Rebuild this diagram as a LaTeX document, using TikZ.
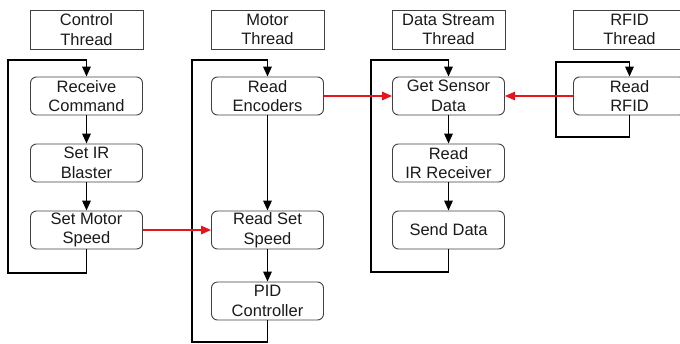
\documentclass[tikz,border=0pt]{standalone}
\usepackage{fontspec}
\setmainfont{Liberation Sans}
\usetikzlibrary{arrows.meta}
\definecolor{boxline}{HTML}{404040}
\definecolor{txt}{HTML}{1A1A1A}
\definecolor{link}{HTML}{E8141B}
\begin{document}
\begin{tikzpicture}[x=1pt,y=-1pt,
  every node/.style={font=\fontsize{16.5}{19.5}\selectfont, text=txt, align=center, inner sep=0pt},
  header/.style={draw=boxline, line width=0.9pt, minimum width=113pt, minimum height=39pt},
  task/.style={draw=boxline, line width=0.9pt, rounded corners=6pt, minimum width=112pt, minimum height=38pt},
  flow/.style={line width=1.6pt, draw=black, -{Triangle[length=10pt,width=8.5pt]}},
  loopline/.style={line width=1.6pt, draw=black, -{Triangle[length=10pt,width=8.5pt]}},
  cross/.style={line width=1.3pt, draw=link, -{Triangle[length=10pt,width=8.5pt]}, fill=link}]
\useasboundingbox (0,0) rectangle (680,343);
\clip (0,0) rectangle (680,343);

% thread headers
\node[header] (hc) at (86.5,29.5) {Control\\Thread};
\node[header] (hm) at (267.5,29.5) {Motor\\Thread};
\node[header] (hd) at (448.5,29.5) {Data Stream\\Thread};
\node[header] (hr) at (629.5,29.5) {RFID\\Thread};

% control thread
\node[task] (rc) at (86.5,96) {Receive\\Command};
\node[task] (ir) at (86.5,163) {Set IR\\Blaster};
\node[task] (sm) at (86.5,230) {Set Motor\\Speed};

% motor thread
\node[task] (re) at (267.5,96) {Read\\Encoders};
\node[task] (rs) at (267.5,230) {Read Set\\Speed};
\node[task] (pid) at (267.5,301) {PID\\Controller};

% data stream thread
\node[task] (gs) at (448.5,96) {Get Sensor\\Data};
\node[task] (rir) at (448.5,163) {Read\\IR Receiver};
\node[task] (sd) at (448.5,230) {Send Data};

% rfid thread
\node[task] (rr) at (629.5,96) {Read\\RFID};

% loop corners
\coordinate (c1) at (8,273);
\coordinate (c2) at (8,60);
\coordinate (m1) at (192,342);
\coordinate (m2) at (192,60);
\coordinate (d1) at (371,272);
\coordinate (d2) at (371,60);
\coordinate (r1) at (556,137);
\coordinate (r2) at (556,62);

% sequence arrows
\draw[flow] (rc) -- (ir);
\draw[flow] (ir) -- (sm);
\draw[flow] (re) -- (rs);
\draw[flow] (rs) -- (pid);
\draw[flow] (gs) -- (rir);
\draw[flow] (rir) -- (sd);

% loops back to the first task
\draw[loopline] (sm.south) |- (c1) -- (c2) -| (rc.north);
\draw[loopline] (pid.south) |- (m1) -- (m2) -| (re.north);
\draw[loopline] (sd.south) |- (d1) -- (d2) -| (gs.north);
\draw[loopline] (rr.south) |- (r1) -- (r2) -| (rr.north);

% cross-thread data
\draw[cross] (sm) -- (rs);
\draw[cross] (re) -- (gs);
\draw[cross] (rr) -- (gs);
\end{tikzpicture}
\end{document}
